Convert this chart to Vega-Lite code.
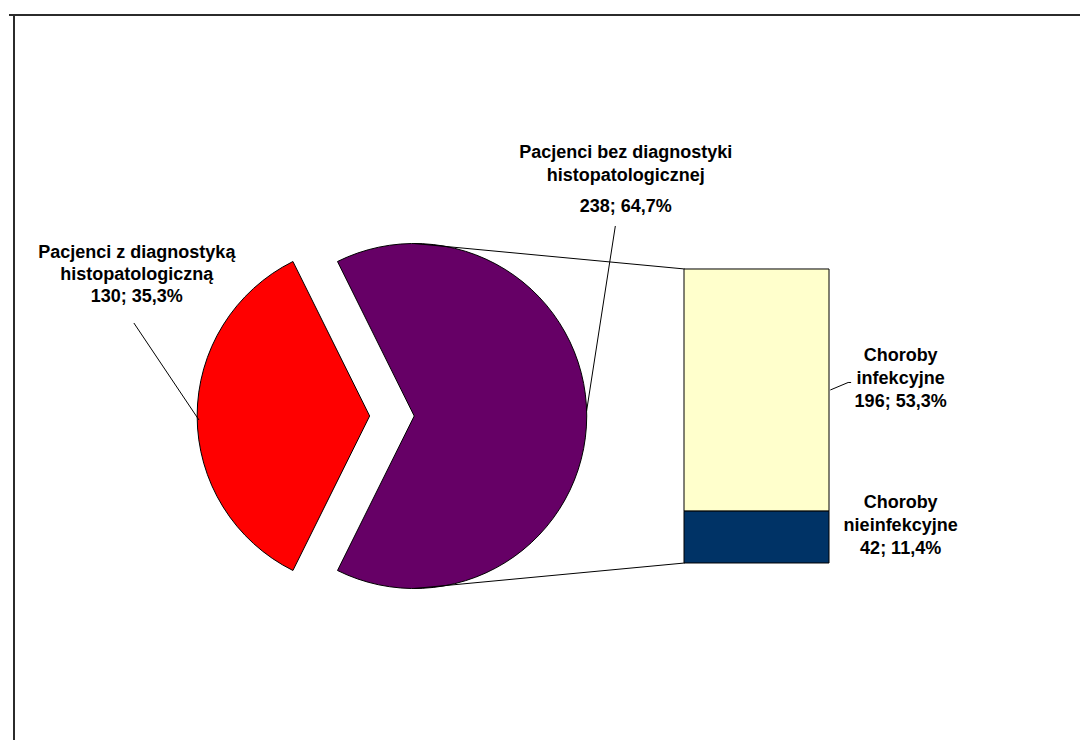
{
  "$schema": "https://vega.github.io/schema/vega-lite/v6.json",
  "width": 1071,
  "height": 725,
  "padding": {"left": 9, "top": 15, "right": 0, "bottom": 0},
  "autosize": {"type": "none"},
  "background": "white",
  "config": {
    "view": {"stroke": null},
    "text": {"font": "Liberation Sans", "fontWeight": "bold", "fontSize": 18, "color": "#000"}
  },
  "data": {
    "values": [
      {"czesc": "koło", "nazwa": "Pacjenci z diagnostyką\nhistopatologiczną", "wartosc": 130},
      {"czesc": "koło", "nazwa": "Pacjenci bez diagnostyki\nhistopatologicznej", "wartosc": 238},
      {"czesc": "słupek", "nazwa": "Choroby\ninfekcyjne", "wartosc": 196},
      {"czesc": "słupek", "nazwa": "Choroby\nnieinfekcyjne", "wartosc": 42}
    ]
  },
  "transform": [
    {"calculate": "datum.czesc === 'koło' ? datum.wartosc : 0", "as": "wKole"},
    {"joinaggregate": [{"op": "sum", "field": "wKole", "as": "suma"}]},
    {"calculate": "datum.wartosc + '; ' + replace(format(100 * datum.wartosc / datum.suma, '.1f'), '.', ',') + '%'", "as": "opisWartosci"},
    {"calculate": "datum.nazwa + '\\n' + datum.opisWartosci", "as": "etykieta"}
  ],
  "layer": [
    {
      "transform": [
        {"filter": "datum.czesc === 'koło'"},
        {"stack": "wartosc", "groupby": [], "sort": [{"field": "wartosc", "order": "ascending"}], "as": ["od", "do"]},
        {"filter": "indexof(datum.nazwa, 'Pacjenci z ') === 0"}
      ],
      "mark": {"type": "arc", "outerRadius": 172.5, "stroke": "#000", "strokeWidth": 1},
      "encoding": {
        "theta": {"field": "od", "type": "quantitative", "scale": {"domain": [0, 368], "range": [3.60259, 9.88578]}},
        "theta2": {"field": "do"},
        "x": {"datum": 290.62, "type": "quantitative", "scale": {"domainMin": 0, "domainMax": 867, "nice": false, "zero": false}, "axis": null},
        "y": {"datum": 119, "type": "quantitative", "scale": {"domainMin": -143.29, "domainMax": 443.62, "nice": false, "zero": false}, "axis": null},
        "color": {"field": "nazwa", "type": "nominal", "legend": null, "scale": {"domain": ["Pacjenci z diagnostyką\nhistopatologiczną", "Pacjenci bez diagnostyki\nhistopatologicznej", "Choroby\ninfekcyjne", "Choroby\nnieinfekcyjne"], "range": ["#FF0000", "#660066", "#FFFFCC", "#003366"]}}
      }
    },
    {
      "transform": [
        {"filter": "datum.czesc === 'koło'"},
        {"stack": "wartosc", "groupby": [], "sort": [{"field": "wartosc", "order": "ascending"}], "as": ["od", "do"]},
        {"filter": "indexof(datum.nazwa, 'Pacjenci bez ') === 0"}
      ],
      "mark": {"type": "arc", "outerRadius": 172.5, "stroke": "#000", "strokeWidth": 1},
      "encoding": {
        "theta": {"field": "od", "type": "quantitative", "scale": {"domain": [0, 368], "range": [3.60259, 9.88578]}},
        "theta2": {"field": "do"},
        "x": {"datum": 327.05, "type": "quantitative", "scale": {"domainMin": 0, "domainMax": 867, "nice": false, "zero": false}, "axis": null},
        "y": {"datum": 119, "type": "quantitative", "scale": {"domainMin": -143.29, "domainMax": 443.62, "nice": false, "zero": false}, "axis": null},
        "color": {"field": "nazwa", "type": "nominal", "legend": null, "scale": {"domain": ["Pacjenci z diagnostyką\nhistopatologiczną", "Pacjenci bez diagnostyki\nhistopatologicznej", "Choroby\ninfekcyjne", "Choroby\nnieinfekcyjne"], "range": ["#FF0000", "#660066", "#FFFFCC", "#003366"]}}
      }
    },
    {
      "transform": [{"filter": "indexof(datum.nazwa, 'Pacjenci bez ') === 0"}],
      "mark": {"type": "rule", "stroke": "#000", "strokeWidth": 1},
      "encoding": {
        "x": {"datum": 327.05, "type": "quantitative", "scale": {"domainMin": 0, "domainMax": 867, "nice": false, "zero": false}, "axis": null},
        "y": {"datum": 258.64, "type": "quantitative", "scale": {"domainMin": -143.29, "domainMax": 443.62, "nice": false, "zero": false}, "axis": null},
        "x2": {"datum": 548.05, "type": "quantitative"},
        "y2": {"datum": 238, "type": "quantitative"}
      }
    },
    {
      "transform": [{"filter": "indexof(datum.nazwa, 'Pacjenci bez ') === 0"}],
      "mark": {"type": "rule", "stroke": "#000", "strokeWidth": 1},
      "encoding": {
        "x": {"datum": 327.05, "type": "quantitative", "scale": {"domainMin": 0, "domainMax": 867, "nice": false, "zero": false}, "axis": null},
        "y": {"datum": -20.64, "type": "quantitative", "scale": {"domainMin": -143.29, "domainMax": 443.62, "nice": false, "zero": false}, "axis": null},
        "x2": {"datum": 548.05, "type": "quantitative"},
        "y2": {"datum": 0, "type": "quantitative"}
      }
    },
    {
      "transform": [
        {"filter": "datum.czesc === 'słupek'"},
        {"stack": "wartosc", "groupby": [], "sort": [{"field": "wartosc", "order": "ascending"}], "as": ["y0", "y1"]}
      ],
      "mark": {"type": "bar", "stroke": "#000", "strokeWidth": 1, "width": 145},
      "encoding": {
        "x": {"datum": 606.74, "type": "quantitative", "scale": {"domainMin": 0, "domainMax": 867, "nice": false, "zero": false}, "axis": null},
        "y": {"field": "y0", "type": "quantitative", "scale": {"domainMin": -143.29, "domainMax": 443.62, "nice": false, "zero": false}, "axis": null},
        "y2": {"field": "y1"},
        "color": {"field": "nazwa", "type": "nominal", "legend": null, "scale": {"domain": ["Pacjenci z diagnostyką\nhistopatologiczną", "Pacjenci bez diagnostyki\nhistopatologicznej", "Choroby\ninfekcyjne", "Choroby\nnieinfekcyjne"], "range": ["#FF0000", "#660066", "#FFFFCC", "#003366"]}}
      }
    },
    {
      "transform": [
        {"filter": "datum.czesc === 'słupek'"},
        {"stack": "wartosc", "groupby": [], "sort": [{"field": "wartosc", "order": "ascending"}], "as": ["y0", "y1"]},
        {"calculate": "(datum.y0 + datum.y1) / 2", "as": "srodek"}
      ],
      "mark": {"type": "text", "align": "center", "baseline": "middle", "lineBreak": "\n", "lineHeight": 23, "dy": -34.5},
      "encoding": {
        "x": {"datum": 724.52, "type": "quantitative", "scale": {"domainMin": 0, "domainMax": 867, "nice": false, "zero": false}, "axis": null},
        "y": {"field": "srodek", "type": "quantitative", "scale": {"domainMin": -143.29, "domainMax": 443.62, "nice": false, "zero": false}, "axis": null},
        "text": {"field": "etykieta", "type": "nominal"}
      }
    },
    {
      "transform": [{"filter": "indexof(datum.nazwa, 'Pacjenci z ') === 0"}],
      "mark": {"type": "text", "align": "center", "baseline": "middle", "lineBreak": "\n", "lineHeight": 22},
      "encoding": {
        "x": {"datum": 100.38, "type": "quantitative", "scale": {"domainMin": 0, "domainMax": 867, "nice": false, "zero": false}, "axis": null},
        "y": {"datum": 250.95, "type": "quantitative", "scale": {"domainMin": -143.29, "domainMax": 443.62, "nice": false, "zero": false}, "axis": null},
        "text": {"field": "etykieta", "type": "nominal"}
      }
    },
    {
      "transform": [{"filter": "indexof(datum.nazwa, 'Pacjenci bez ') === 0"}],
      "mark": {"type": "text", "align": "center", "baseline": "middle", "lineBreak": "\n", "lineHeight": 23},
      "encoding": {
        "x": {"datum": 499.88, "type": "quantitative", "scale": {"domainMin": 0, "domainMax": 867, "nice": false, "zero": false}, "axis": null},
        "y": {"datum": 332.3, "type": "quantitative", "scale": {"domainMin": -143.29, "domainMax": 443.62, "nice": false, "zero": false}, "axis": null},
        "text": {"field": "nazwa", "type": "nominal"}
      }
    },
    {
      "transform": [{"filter": "indexof(datum.nazwa, 'Pacjenci bez ') === 0"}],
      "mark": {"type": "text", "align": "center", "baseline": "middle"},
      "encoding": {
        "x": {"datum": 499.88, "type": "quantitative", "scale": {"domainMin": 0, "domainMax": 867, "nice": false, "zero": false}, "axis": null},
        "y": {"datum": 288.2, "type": "quantitative", "scale": {"domainMin": -143.29, "domainMax": 443.62, "nice": false, "zero": false}, "axis": null},
        "text": {"field": "opisWartosci", "type": "nominal"}
      }
    },
    {
      "transform": [{"filter": "indexof(datum.nazwa, 'Pacjenci z ') === 0"}],
      "mark": {"type": "rule", "stroke": "#000", "strokeWidth": 1},
      "encoding": {
        "x": {"datum": 97.95, "type": "quantitative", "scale": {"domainMin": 0, "domainMax": 867, "nice": false, "zero": false}, "axis": null},
        "y": {"datum": 194.29, "type": "quantitative", "scale": {"domainMin": -143.29, "domainMax": 443.62, "nice": false, "zero": false}, "axis": null},
        "x2": {"datum": 151.14, "type": "quantitative"},
        "y2": {"datum": 115.76, "type": "quantitative"}
      }
    },
    {
      "transform": [{"filter": "indexof(datum.nazwa, 'Pacjenci bez ') === 0"}],
      "mark": {"type": "rule", "stroke": "#000", "strokeWidth": 1},
      "encoding": {
        "x": {"datum": 491.38, "type": "quantitative", "scale": {"domainMin": 0, "domainMax": 867, "nice": false, "zero": false}, "axis": null},
        "y": {"datum": 272.81, "type": "quantitative", "scale": {"domainMin": -143.29, "domainMax": 443.62, "nice": false, "zero": false}, "axis": null},
        "x2": {"datum": 467.9, "type": "quantitative"},
        "y2": {"datum": 123.05, "type": "quantitative"}
      }
    },
    {
      "transform": [{"filter": "datum.nazwa === 'Choroby\\ninfekcyjne'"}],
      "mark": {"type": "rule", "stroke": "#000", "strokeWidth": 1},
      "encoding": {
        "x": {"datum": 667.05, "type": "quantitative", "scale": {"domainMin": 0, "domainMax": 867, "nice": false, "zero": false}, "axis": null},
        "y": {"datum": 140.05, "type": "quantitative", "scale": {"domainMin": -143.29, "domainMax": 443.62, "nice": false, "zero": false}, "axis": null},
        "x2": {"datum": 681.62, "type": "quantitative"},
        "y2": {"datum": 146.12, "type": "quantitative"}
      }
    },
    {
      "transform": [{"filter": "datum.nazwa === 'Choroby\\ninfekcyjne'"}],
      "mark": {"type": "rule", "stroke": "#000", "strokeWidth": 1},
      "encoding": {
        "x": {"datum": 681.62, "type": "quantitative", "scale": {"domainMin": 0, "domainMax": 867, "nice": false, "zero": false}, "axis": null},
        "y": {"datum": 146.12, "type": "quantitative", "scale": {"domainMin": -143.29, "domainMax": 443.62, "nice": false, "zero": false}, "axis": null},
        "x2": {"datum": 684.05, "type": "quantitative"},
        "y2": {"datum": 146.12, "type": "quantitative"}
      }
    },
    {
      "transform": [{"filter": "indexof(datum.nazwa, 'Pacjenci z ') === 0"}],
      "mark": {"type": "rule", "stroke": "#2b2b2b", "strokeWidth": 2},
      "encoding": {
        "y": {"datum": 443.62, "type": "quantitative", "scale": {"domainMin": -143.29, "domainMax": 443.62, "nice": false, "zero": false}, "axis": null}
      }
    },
    {
      "transform": [{"filter": "indexof(datum.nazwa, 'Pacjenci z ') === 0"}],
      "mark": {"type": "rule", "stroke": "#2b2b2b", "strokeWidth": 2},
      "encoding": {
        "x": {"datum": 0, "type": "quantitative", "scale": {"domainMin": 0, "domainMax": 867, "nice": false, "zero": false}, "axis": null}
      }
    }
  ]
}
